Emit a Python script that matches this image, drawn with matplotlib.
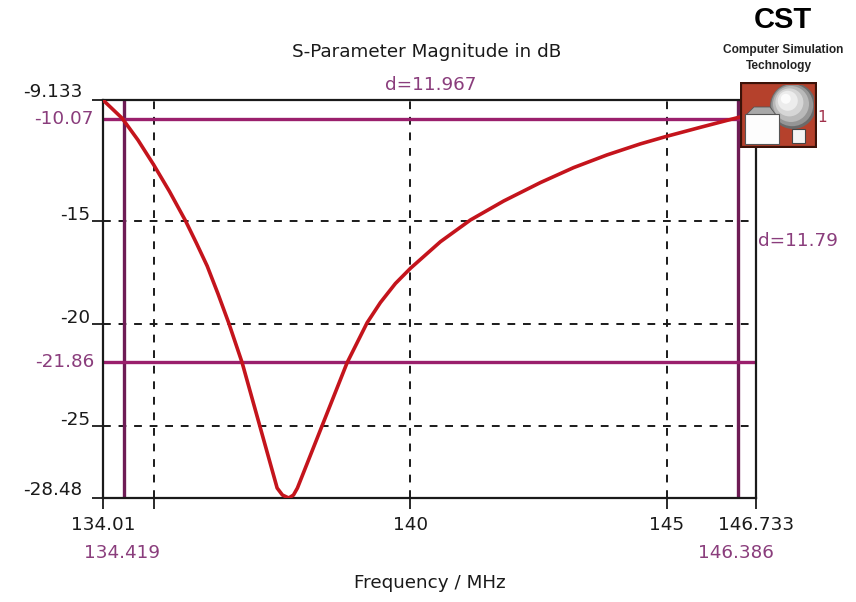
import matplotlib
matplotlib.use("Agg")
import matplotlib.pyplot as plt
from matplotlib.patches import Rectangle, Circle, Polygon

# S11 magnitude (dB) versus frequency (MHz)
freq_mhz = [134.01, 134.384, 134.692, 135.0, 135.305, 135.617, 135.831, 136.04,
            136.25, 136.46, 136.721, 137.064, 137.403, 137.506, 137.629,
            137.721, 137.798, 138.279, 138.766, 139.156, 139.415, 139.707,
            140.0, 140.584, 141.168, 141.817, 142.531, 143.18, 143.831,
            144.479, 145.0, 145.659, 146.34, 146.733]
s11_db = [-9.133, -10.023, -11.082, -12.293, -13.576, -15.001, -16.095, -17.203,
          -18.55, -19.974, -21.904, -24.967, -27.996, -28.336, -28.48,
          -28.336, -27.996, -24.967, -21.904, -19.96, -18.978, -18.054,
          -17.315, -16.022, -14.967, -14.043, -13.149, -12.419, -11.802,
          -11.267, -10.893, -10.455, -10.013, -9.76]

x_limits = [134.01, 146.733]
y_limits = [-28.48, -9.133]
x_grid = [135, 140, 145]
y_grid = [-15, -20, -25]
x_edge_labels = ["134.01", "146.733"]
x_grid_labels = ["", "140", "145"]
y_edge_labels = ["-9.133", "-28.48"]
y_grid_labels = ["-15", "-20", "-25"]

# Markers
marker_freqs = [134.419, 146.386]
marker_levels = [-10.07, -21.86]
marker_freq_labels = ["134.419", "146.386"]
marker_level_labels = ["-10.07", "-21.86"]
delta_freq_label = "d=11.967"
delta_level_label = "d=11.79"

title = "S-Parameter Magnitude in dB"
xlabel = "Frequency / MHz"

W, H = 856, 602
fig = plt.figure(figsize=(W / 100, H / 100), dpi=100, facecolor="white")
ax = fig.add_axes([103 / W, 1 - 498 / H, (756 - 103) / W, (498 - 100) / H])
ax.set_xlim(*x_limits)
ax.set_ylim(*y_limits)

font = "DejaVu Sans"
fs = 13.2
black = "#1a1a1a"
purple = "#8a3d7c"
marker_col_h = "#9a1f6c"
marker_col_v = "#6e1c55"
curve_col = "#c4141c"

for s in ax.spines.values():
    s.set_linewidth(1.6)
    s.set_color(black)

ax.set_xticks([x_limits[0]] + x_grid + [x_limits[1]])
ax.set_yticks([y_limits[1]] + y_grid + [y_limits[0]])
ax.set_xticklabels([])
ax.set_yticklabels([])
ax.tick_params(direction="out", length=8, width=1.3, color=black)

for xv in x_grid:
    ax.axvline(xv, color=black, lw=1.4, dashes=(4, 4), zorder=1)
for yv in y_grid:
    ax.axhline(yv, color=black, lw=1.4, dashes=(4, 4), zorder=1)

for xv in marker_freqs:
    ax.axvline(xv, color=marker_col_v, lw=2.4, zorder=2)
for yv in marker_levels:
    ax.axhline(yv, color=marker_col_h, lw=2.4, zorder=2)

ax.plot(freq_mhz, s11_db, color=curve_col, lw=2.6, zorder=3,
        solid_joinstyle="round", solid_capstyle="round")

# x tick labels
for v, lab in zip(x_limits + x_grid, x_edge_labels + x_grid_labels):
    if not lab:
        continue
    ax.annotate(lab, xy=(v, 0), xycoords=("data", "axes fraction"),
                xytext=(0, -27), textcoords="offset pixels", ha="center",
                va="center", fontsize=fs, family=font, color=black)
for v, lab in zip(marker_freqs, marker_freq_labels):
    ax.annotate(lab, xy=(v, 0), xycoords=("data", "axes fraction"),
                xytext=(-2, -55), textcoords="offset pixels", ha="center",
                va="center", fontsize=fs, family=font, color=purple)

# y tick labels
for v, lab in zip([y_limits[1], y_limits[0]], y_edge_labels):
    ax.annotate(lab, xy=(0, v), xycoords=("axes fraction", "data"),
                xytext=(-21, 8), textcoords="offset pixels", ha="right",
                va="center", fontsize=fs, family=font, color=black)
for v, lab in zip(y_grid, y_grid_labels):
    ax.annotate(lab, xy=(0, v), xycoords=("axes fraction", "data"),
                xytext=(-13, 6), textcoords="offset pixels", ha="right",
                va="center", fontsize=fs, family=font, color=black)
for v, lab in zip(marker_levels, marker_level_labels):
    ax.annotate(lab, xy=(0, v), xycoords=("axes fraction", "data"),
                xytext=(-9, 0), textcoords="offset pixels", ha="right",
                va="center", fontsize=fs, family=font, color=purple)

# delta annotations
ax.annotate(delta_freq_label, xy=(sum(marker_freqs) / 2, 1),
            xycoords=("data", "axes fraction"), xytext=(0, 15),
            textcoords="offset pixels", ha="center", va="center",
            fontsize=fs, family=font, color=purple)
ax.annotate(delta_level_label, xy=(1, sum(marker_levels) / 2),
            xycoords=("axes fraction", "data"), xytext=(2, 0),
            textcoords="offset pixels", ha="left", va="center",
            fontsize=fs, family=font, color=purple)

fig.text(427 / W, 1 - 52 / H, title, ha="center", va="center",
         fontsize=fs, family=font, color=black)
fig.text(430 / W, 1 - 583 / H, xlabel, ha="center", va="center",
         fontsize=fs, family=font, color=black)

# CST logo
fig.text(783 / W, 1 - 20 / H, "CST", ha="center", va="center", fontsize=21,
         family="Liberation Sans", weight="bold", color="black")
fig.text(783 / W, 1 - 50 / H, "Computer Simulation", ha="center", va="center",
         fontsize=8.6, family="Liberation Sans", weight="bold", color="#222222")
fig.text(779 / W, 1 - 66 / H, "Technology", ha="center", va="center",
         fontsize=8.6, family="Liberation Sans", weight="bold", color="#222222")

lx0, ly0, lw_, lh_ = 740, 82, 77, 66
lax = fig.add_axes([lx0 / W, 1 - (ly0 + lh_) / H, lw_ / W, lh_ / H])
lax.set_xlim(0, lw_)
lax.set_ylim(0, lh_)
lax.axis("off")
lax.add_patch(Rectangle((0.8, 0.8), lw_ - 1.6, lh_ - 1.6, facecolor="#b5412c",
                        edgecolor="#3b1208", lw=1.6))
clip_box = Rectangle((3, 3), lw_ - 6, lh_ - 6, transform=lax.transData)
for r, c in [(23, "#6a6a6a"), (21, "#959595"), (18, "#b9b9b9"),
             (14, "#d6d6d6"), (10, "#ececec"), (5, "#fbfbfb")]:
    off = (23 - r) * 0.4
    circ = Circle((53 - off, 42 + off), r, facecolor=c, edgecolor="none")
    lax.add_patch(circ)
    circ.set_clip_path(clip_box)
lax.add_patch(Polygon([(6, 33), (36, 33), (30, 41), (14, 41)],
                      facecolor="#a8a8a8", edgecolor="#555555", lw=0.6))
lax.add_patch(Rectangle((5, 4), 34, 30, facecolor="#fdfdfd",
                        edgecolor="#555555", lw=0.8))
lax.add_patch(Rectangle((52, 5), 13, 14, facecolor="#f4f4f4",
                        edgecolor="#444444", lw=0.8))
fig.text(822 / W, 1 - 117 / H, "1", ha="center", va="center", fontsize=11,
         family=font, color="#a0304a")

fig.savefig("out.png", dpi=100, facecolor="white")
